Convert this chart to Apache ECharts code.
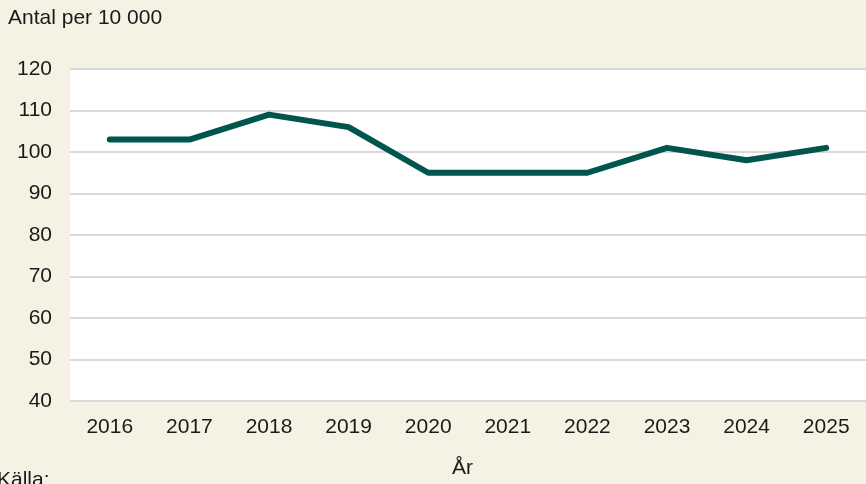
<!DOCTYPE html>
<html>
<head>
<meta charset="utf-8">
<style>
  html, body { margin: 0; padding: 0; background: #f5f1e3; }
  #main { width: 866px; height: 484px; }
</style>
</head>
<body>
<div id="main"></div>
<script src="https://cdn.jsdelivr.net/npm/echarts@6/dist/echarts.min.js"></script>
<script>
// data
var years = ['2016', '2017', '2018', '2019', '2020', '2021', '2022', '2023', '2024', '2025'];
var values = [103, 103, 109, 106, 95, 95, 95, 101, 98, 101];

var myChart = echarts.init(document.getElementById('main'));
var font = '"Liberation Sans", Arial, sans-serif';

var option = {
    backgroundColor: '#f5f1e3',
    animation: false,
    textStyle: { fontFamily: font },
    graphic: [
        { type: 'text', left: 8, top: 8, style: { text: 'Antal per 10 000', font: '21px ' + font, fill: '#1a1a1a' } },
        { type: 'text', left: 452, top: 458, style: { text: 'År', font: '21px ' + font, fill: '#1a1a1a' } },
        { type: 'text', left: -3, top: 470, style: { text: 'Källa:', font: '21px ' + font, fill: '#1a1a1a' } }
    ],
    grid: { left: 70, right: 0, top: 69, bottom: 83, backgroundColor: '#ffffff', show: true, borderWidth: 0 },
    xAxis: {
        type: 'category',
        data: years,
        boundaryGap: true,
        axisLine: { show: false },
        axisTick: { show: false },
        axisLabel: { color: '#1a1a1a', fontSize: 21, margin: 16, fontFamily: font }
    },
    yAxis: {
        type: 'value',
        min: 40,
        max: 120,
        interval: 10,
        axisLine: { show: false },
        axisTick: { show: false },
        axisLabel: { color: '#1a1a1a', fontSize: 21, margin: 18, fontFamily: font },
        splitLine: { lineStyle: { color: '#d9d9d9', width: 2 } }
    },
    series: [{
        type: 'line',
        data: values,
        symbol: 'none',
        lineStyle: { color: '#00564d', width: 6, cap: 'round', join: 'round' }
    }]
};

myChart.setOption(option);
</script>
</body>
</html>
